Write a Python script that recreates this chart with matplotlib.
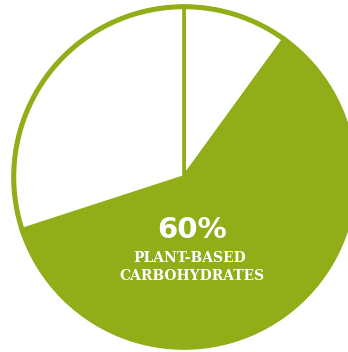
import matplotlib
matplotlib.use("Agg")
import matplotlib.pyplot as plt
from matplotlib.patches import Circle

categories = ["Other", "Plant-based carbohydrates", "Other2"]
values = [10, 60, 30]
label_pct = "60%"
label_lines = ["PLANT-BASED", "CARBOHYDRATES"]

GREEN = "#91AD17"
colors = ["white", GREEN, "white"]

W, H = 348, 352
fig = plt.figure(figsize=(W / 100, H / 100), dpi=100)
ax = fig.add_axes([0, 0, 1, 1])

cx, cy, r = 184, H - 177, 171
ax.pie(values, colors=colors, startangle=90, counterclock=False,
       center=(cx, cy), radius=r, frame=True,
       wedgeprops=dict(edgecolor=GREEN, linewidth=2.6))
ax.add_patch(Circle((cx, cy), r - 1, fill=False, edgecolor=GREEN, linewidth=3.2))
ax.set_xlim(0, W)
ax.set_ylim(0, H)
ax.set_aspect("equal")
ax.axis("off")

ax.text(192, H - 230, label_pct, ha="center", va="center", color="white",
        fontsize=21, fontweight="bold", family="DejaVu Sans")
ax.text(190, H - 257.5, label_lines[0], ha="center", va="center", color="white",
        fontsize=10, fontweight="bold", family="DejaVu Serif")
ax.text(192, H - 276, label_lines[1], ha="center", va="center", color="white",
        fontsize=10, fontweight="bold", family="DejaVu Serif")

fig.savefig("out.png", dpi=100)
